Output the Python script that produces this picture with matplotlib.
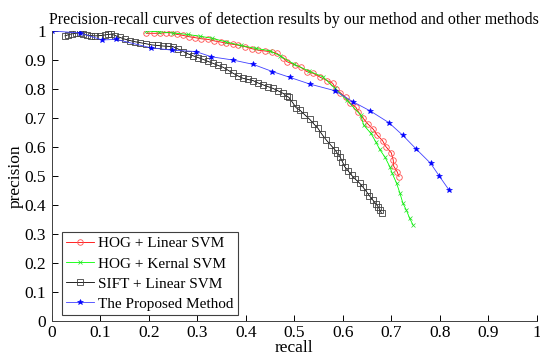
import matplotlib
matplotlib.use("Agg")
import matplotlib.pyplot as plt

plt.rcParams['font.family'] = ['Liberation Serif', 'DejaVu Serif']

# HOG + Linear SVM
red_recall = [0.195, 0.210, 0.224, 0.235, 0.246, 0.258, 0.270, 0.283, 0.295, 0.308,
              0.322, 0.334, 0.348, 0.360, 0.373, 0.384, 0.398, 0.412, 0.425, 0.439,
              0.453, 0.464, 0.476, 0.485, 0.501, 0.513, 0.526, 0.539, 0.554, 0.568,
              0.579, 0.586, 0.595, 0.606, 0.614, 0.627, 0.632, 0.642, 0.652, 0.663,
              0.671, 0.682, 0.689, 0.700, 0.704, 0.705, 0.712, 0.716]
red_prec = [0.992, 0.992, 0.992, 0.994, 0.994, 0.988, 0.985, 0.980, 0.977, 0.973,
            0.971, 0.966, 0.962, 0.958, 0.954, 0.951, 0.946, 0.939, 0.934, 0.931,
            0.928, 0.923, 0.908, 0.894, 0.883, 0.875, 0.860, 0.854, 0.840, 0.829,
            0.820, 0.799, 0.787, 0.771, 0.753, 0.737, 0.722, 0.699, 0.679, 0.661,
            0.641, 0.622, 0.601, 0.580, 0.555, 0.534, 0.515, 0.498]

# HOG + Kernal SVM
green_recall = [0.194, 0.22, 0.25, 0.28, 0.305, 0.33, 0.36, 0.39, 0.42, 0.449,
                0.47, 0.50, 0.53, 0.559, 0.584, 0.608, 0.637, 0.643, 0.658, 0.668,
                0.676, 0.687, 0.697, 0.702, 0.711, 0.718, 0.724, 0.731, 0.738, 0.745]
green_prec = [1.0, 0.997, 0.993, 0.988, 0.982, 0.975, 0.962, 0.95, 0.94, 0.932,
              0.915, 0.885, 0.862, 0.842, 0.802, 0.762, 0.710, 0.676, 0.647, 0.618,
              0.592, 0.565, 0.532, 0.509, 0.475, 0.440, 0.406, 0.383, 0.354, 0.331]

# SIFT + Linear SVM
black_recall = [0.027, 0.034, 0.041, 0.050, 0.058, 0.065, 0.072, 0.080, 0.089, 0.099,
                0.109, 0.116, 0.123, 0.131, 0.140, 0.150, 0.161, 0.171, 0.181, 0.194,
                0.206, 0.218, 0.230, 0.240, 0.250, 0.260, 0.271, 0.281, 0.292, 0.302,
                0.312, 0.322, 0.333, 0.343, 0.353, 0.363, 0.374, 0.384, 0.394, 0.404,
                0.415, 0.425, 0.436, 0.446, 0.456, 0.466, 0.477, 0.484, 0.489, 0.497,
                0.504, 0.511, 0.521, 0.532, 0.540, 0.549, 0.557, 0.566, 0.575, 0.584,
                0.589, 0.594, 0.599, 0.604, 0.611, 0.618, 0.626, 0.635, 0.642, 0.649,
                0.655, 0.662, 0.668, 0.673, 0.677, 0.680]
black_prec = [0.983, 0.987, 0.990, 0.992, 0.994, 0.990, 0.986, 0.984, 0.983, 0.984,
              0.986, 0.988, 0.989, 0.984, 0.978, 0.972, 0.967, 0.963, 0.960, 0.956,
              0.952, 0.950, 0.948, 0.947, 0.946, 0.938, 0.929, 0.921, 0.914, 0.908,
              0.902, 0.895, 0.888, 0.881, 0.875, 0.865, 0.854, 0.845, 0.837, 0.833,
              0.829, 0.821, 0.814, 0.808, 0.802, 0.794, 0.785, 0.776, 0.771, 0.752,
              0.735, 0.728, 0.712, 0.695, 0.680, 0.664, 0.644, 0.624, 0.607, 0.590,
              0.578, 0.567, 0.550, 0.532, 0.518, 0.503, 0.489, 0.475, 0.461, 0.446,
              0.432, 0.417, 0.405, 0.394, 0.382, 0.371]

# The Proposed Method
blue_recall = [0.0, 0.058, 0.104, 0.133, 0.204, 0.247, 0.297, 0.329, 0.373, 0.415,
               0.455, 0.491, 0.532, 0.584, 0.621, 0.657, 0.695, 0.724, 0.752, 0.781,
               0.799, 0.819]
blue_prec = [1.0, 0.993, 0.969, 0.971, 0.942, 0.934, 0.929, 0.911, 0.900, 0.885,
             0.860, 0.840, 0.817, 0.794, 0.756, 0.724, 0.684, 0.640, 0.592, 0.544,
             0.500, 0.452]

labels = ['HOG + Linear SVM', 'HOG + Kernal SVM', 'SIFT + Linear SVM', 'The Proposed Method']
ticks = [0, 0.1, 0.2, 0.3, 0.4, 0.5, 0.6, 0.7, 0.8, 0.9, 1]
tick_labels = ['0', '0.1', '0.2', '0.3', '0.4', '0.5', '0.6', '0.7', '0.8', '0.9', '1']

fig = plt.figure(figsize=(5.4, 3.6), dpi=100)
ax = fig.add_axes([0.096, 0.108, 0.898, 0.806])

ax.plot(red_recall, red_prec, color='#ff0000', lw=0.6, marker='o', ms=4,
        mfc='none', mec='#ff5050', mew=0.6, label=labels[0])
ax.plot(green_recall, green_prec, color='#00ff00', lw=0.6, marker='x', ms=2.5,
        mec='#20e020', mew=0.5, label=labels[1])
ax.plot(black_recall, black_prec, color='black', lw=0.6, marker='s', ms=3.8,
        mfc='none', mec='#404040', mew=0.6, label=labels[2])
ax.plot(blue_recall, blue_prec, color='#4040ff', lw=0.6, marker='*', ms=4,
        mfc='#0000ff', mec='#0000ff', mew=0.4, label=labels[3])

ax.set_xlim(0, 1)
ax.set_ylim(0, 1)
ax.set_xticks(ticks)
ax.set_xticklabels(tick_labels)
ax.set_yticks(ticks)
ax.set_yticklabels(tick_labels)
ax.tick_params(direction='in', length=4, width=0.7, labelsize=12.5)
ax.tick_params(axis='x', pad=3)
ax.tick_params(axis='y', pad=4)
for s in ['top', 'right']:
    ax.spines[s].set_visible(False)
for s in ['left', 'bottom']:
    ax.spines[s].set_linewidth(0.7)
    ax.spines[s].set_color('#404040')

ax.set_xlabel('recall', fontsize=12.5, labelpad=-1)
ax.set_ylabel('precision', fontsize=12.5, labelpad=1)
ax.set_title('Precision-recall curves of detection results by our method and other methods',
             fontsize=11.4, pad=5)

leg = ax.legend(loc='lower left', bbox_to_anchor=(0.02, 0.02), fontsize=11,
                frameon=True, fancybox=False, edgecolor='#404040', framealpha=1,
                handlelength=1.8, handletextpad=0.3, labelspacing=0.42,
                borderpad=0.3, borderaxespad=0)
leg.get_frame().set_linewidth(0.8)

fig.savefig('out.png', dpi=100)
